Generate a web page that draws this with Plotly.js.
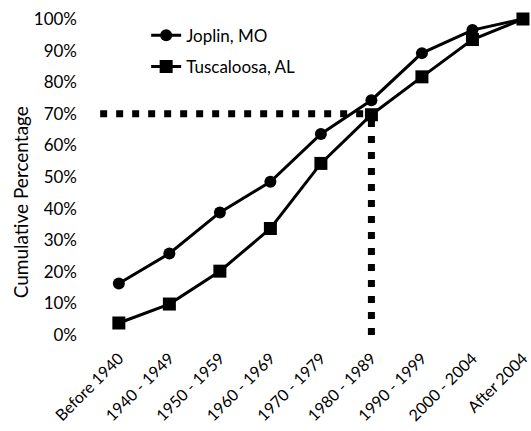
<!DOCTYPE html>
<html><head><meta charset="utf-8">
<script src="https://cdn.plot.ly/plotly-3.0.1.min.js"></script>
<style>html,body{margin:0;padding:0;background:#fff}</style>
</head><body>
<div id="chart" style="width:531px;height:431px"></div>
<script>
const categories = ["Before 1940","1940 - 1949","1950 - 1959","1960 - 1969","1970 - 1979","1980 - 1989","1990 - 1999","2000 - 2004","After 2004"];
const joplin = [0.163, 0.258, 0.388, 0.485, 0.636, 0.743, 0.892, 0.965, 1.0];
const tuscaloosa = [0.038, 0.098, 0.202, 0.337, 0.543, 0.697, 0.817, 0.935, 1.0];
const refLevel = 0.70;
const refCategoryIndex = 5;
const yTitle = "Cumulative Percentage";

const font = "Lato, 'Open Sans', sans-serif";
const idx = categories.map((c,i)=>i);
const traces = [
  {x: idx, y: joplin, name: "Joplin, MO", legendgroup: "a", mode: "lines+markers",
   line: {color: "#000", width: 3}, marker: {symbol: "circle", size: 12, color: "#000"}, cliponaxis: false},
  {x: idx, y: tuscaloosa, name: "Tuscaloosa, AL", legendgroup: "b", mode: "lines+markers",
   line: {color: "#000", width: 3}, marker: {symbol: "square", size: 13, color: "#000"}, cliponaxis: false}
];
const layout = {
  width: 531, height: 431,
  margin: {l: 84, r: 3, t: 19, b: 96},
  paper_bgcolor: "#fff", plot_bgcolor: "#fff",
  font: {family: font, size: 17, color: "#000"},
  showlegend: true,
  legend: {x: 0.14, y: 1.004, xanchor: "left", yanchor: "top", bgcolor: "rgba(0,0,0,0)",
           font: {family: font, size: 17, color: "#000"}, itemwidth: 30, tracegroupgap: 6,
           traceorder: "grouped"},
  xaxis: {range: [-0.69, 8.1], tickvals: idx, ticktext: categories,
          tickangle: -45, showgrid: false, zeroline: false, showline: false, ticks: "",
          ticklabelstandoff: 10, ticklabeloverflow: "allow",
          tickfont: {family: font, size: 16, color: "#000"}},
  yaxis: {range: [0, 1], tickvals: [0,0.1,0.2,0.3,0.4,0.5,0.6,0.7,0.8,0.9,1.0], tickformat: ".0%",
          showgrid: false, zeroline: false, showline: false, ticks: "",
          ticklabelstandoff: 6,
          tickfont: {family: font, size: 17, color: "#000"}},
  annotations: [
    {text: yTitle, xref: "paper", yref: "paper", x: -0.144, y: 0.42, xanchor: "center", yanchor: "middle",
     textangle: -90, showarrow: false, font: {family: font, size: 19, color: "#000"}}
  ],
  shapes: [
    {type: "line", xref: "x", yref: "y", x0: -0.37, x1: refCategoryIndex, y0: refLevel, y1: refLevel,
     line: {color: "#000", width: 7, dash: "7px,9px"}, layer: "below"},
    {type: "line", xref: "x", yref: "y", x0: refCategoryIndex, x1: refCategoryIndex, y0: refLevel - 0.02, y1: 0,
     line: {color: "#000", width: 7, dash: "7px,9px"}, layer: "below"}
  ]
};
Plotly.newPlot("chart", traces, layout, {displayModeBar: false, staticPlot: true});
</script>
</body></html>
